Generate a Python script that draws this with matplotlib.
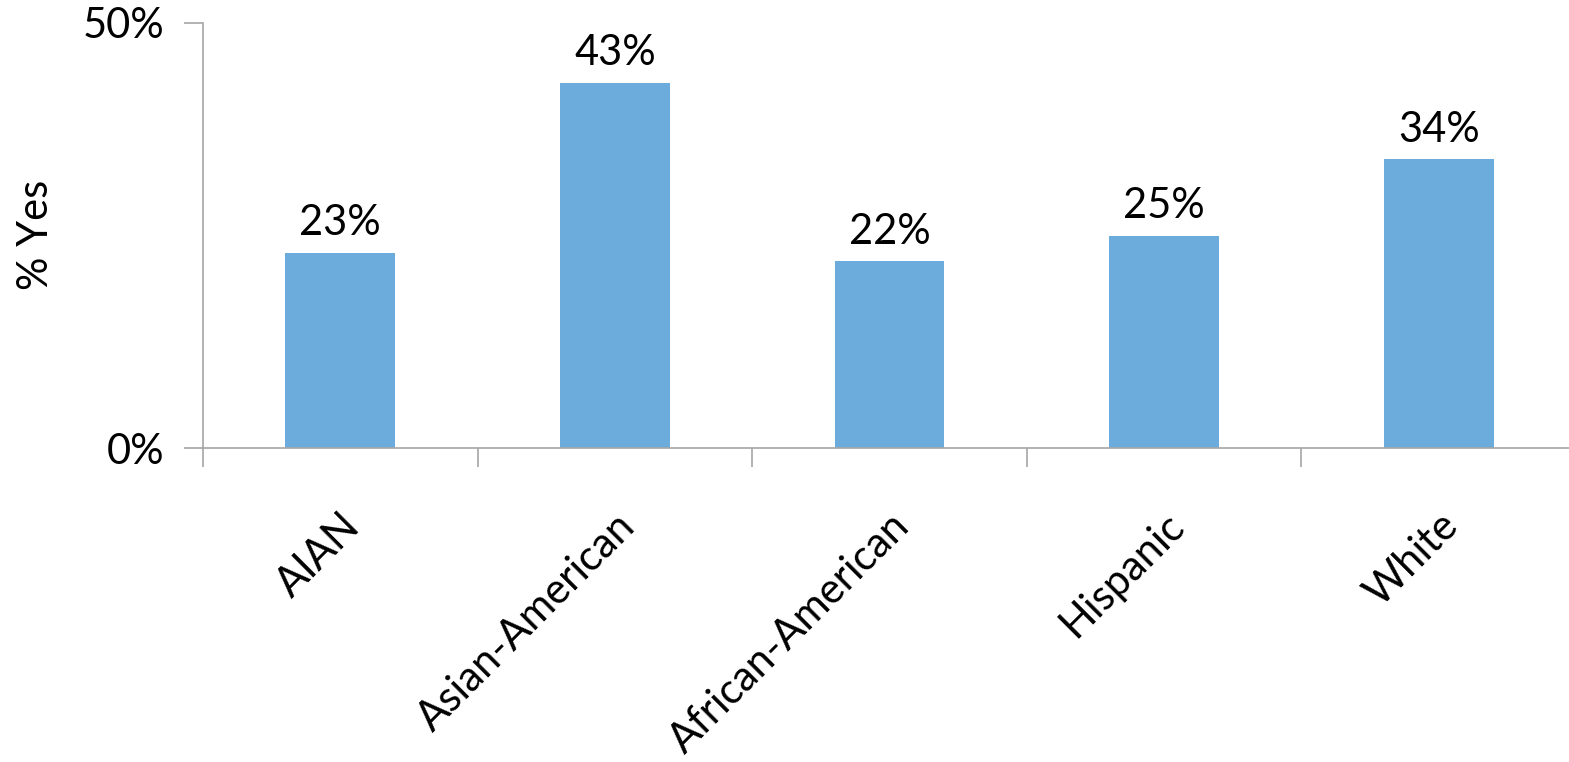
import numpy as np
import matplotlib
matplotlib.use("Agg")
import matplotlib.pyplot as plt

categories = ["AIAN", "Asian-American", "African-American", "Hispanic", "White"]
pct_yes = [23, 43, 22, 25, 34]

BAR = "#6CACDC"
AXIS = "#A6A6A6"
FS = 30
plt.rcParams["font.family"] = ["Lato", "DejaVu Sans"]

W, H = 1569, 762
fig = plt.figure(figsize=(W / 100, H / 100), dpi=100)
ax = fig.add_axes([203 / W, (H - 448) / H, 1373 / W, 425 / H])

x = np.arange(len(categories)) + 0.5
ax.bar(x, pct_yes, width=0.4, color=BAR, zorder=2)
for xi, v in zip(x, pct_yes):
    ax.text(xi, v + 1.2, f"{v}%", ha="center", va="bottom", fontsize=FS)

ax.set_xlim(0, len(categories))
ax.set_ylim(0, 50)
ax.set_yticks([0, 50], ["0%", "50%"], fontsize=FS)
ax.set_xticks(np.arange(len(categories) + 1), minor=False)
ax.set_xticklabels([])
ax.set_xticks(x, categories, minor=True, rotation=45, ha="right",
              rotation_mode="anchor", fontsize=FS)
ax.tick_params(axis="x", which="minor", length=0, pad=42)
ax.tick_params(axis="x", which="major", length=14, color=AXIS, width=1.2)
ax.tick_params(axis="y", length=14, color=AXIS, width=1.2, pad=14)
for s in ["top", "right"]:
    ax.spines[s].set_visible(False)
for s in ["left", "bottom"]:
    ax.spines[s].set_color(AXIS)
    ax.spines[s].set_linewidth(1.2)
fig.text(36 / W, 1 - 235 / H, "% Yes", rotation=90, ha="center", va="center",
         fontsize=FS)

fig.savefig("out.png", dpi=100)
